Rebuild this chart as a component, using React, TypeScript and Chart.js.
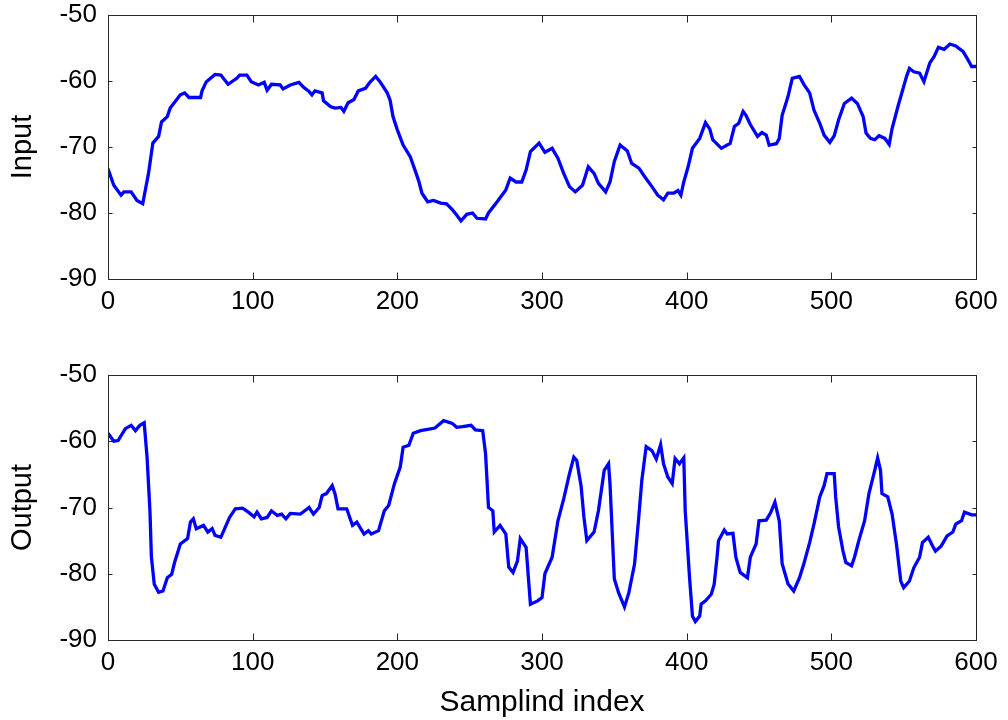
import React, { useEffect, useRef } from "react";
import { Chart, registerables } from "chart.js";

Chart.register(...registerables);

// Input series (sample index, value)
const inputX = [0, 4, 9, 11, 16, 20, 24, 28, 31, 35, 37, 41, 43, 50, 53, 56, 64, 65, 68, 74, 78, 83, 89, 91, 96, 99, 104, 108, 110, 113, 119, 121, 126, 132, 135, 139, 141, 143, 148, 149, 154, 157, 161, 163, 166, 170, 173, 178, 181, 185, 188, 193, 195, 197, 200, 204, 209, 213, 215, 217, 221, 225, 230, 234, 238, 241, 244, 248, 252, 255, 261, 263, 269, 275, 278, 282, 286, 289, 292, 298, 302, 307, 311, 315, 319, 323, 328, 332, 336, 339, 344, 347, 350, 354, 359, 362, 367, 371, 376, 380, 384, 387, 391, 394, 396, 398, 401, 404, 409, 413, 416, 418, 424, 428, 430, 433, 436, 439, 441, 444, 449, 452, 455, 457, 462, 464, 466, 470, 473, 478, 481, 485, 488, 492, 495, 499, 502, 505, 509, 514, 518, 522, 524, 527, 530, 533, 537, 540, 542, 546, 549, 552, 554, 557, 561, 564, 568, 571, 574, 578, 582, 586, 591, 594, 597, 600];
const inputY = [-73.3, -75.8, -77.3, -76.8, -76.8, -78.1, -78.6, -74.0, -69.4, -68.4, -66.2, -65.4, -64.1, -62.1, -61.8, -62.5, -62.5, -61.5, -60.1, -59.0, -59.1, -60.5, -59.6, -59.1, -59.1, -60.1, -60.6, -60.2, -61.4, -60.5, -60.6, -61.2, -60.6, -60.2, -60.9, -61.6, -62.1, -61.5, -61.8, -63.0, -63.9, -64.1, -64.0, -64.6, -63.3, -62.8, -61.5, -61.1, -60.2, -59.3, -60.1, -61.8, -62.9, -65.4, -67.4, -69.7, -71.5, -74.0, -75.3, -77.0, -78.3, -78.1, -78.5, -78.6, -79.5, -80.3, -81.2, -80.2, -80.0, -80.8, -80.9, -80.0, -78.3, -76.5, -74.7, -75.3, -75.3, -73.5, -70.7, -69.4, -70.8, -70.2, -71.7, -74.0, -76.0, -76.8, -75.8, -73.0, -74.0, -75.5, -76.8, -75.3, -72.2, -69.7, -70.6, -72.5, -73.2, -74.5, -76.0, -77.3, -78.0, -77.0, -77.0, -76.6, -77.3, -75.3, -73.0, -70.2, -68.7, -66.3, -67.3, -68.9, -70.2, -69.7, -69.5, -66.9, -66.4, -64.6, -65.2, -66.6, -68.4, -67.8, -68.2, -69.7, -69.5, -68.7, -65.2, -62.4, -59.6, -59.3, -60.5, -61.8, -64.4, -66.4, -68.2, -69.3, -68.3, -65.9, -63.4, -62.6, -63.4, -65.4, -67.9, -68.7, -68.9, -68.3, -68.7, -69.6, -67.2, -63.9, -61.6, -59.3, -58.1, -58.6, -58.8, -60.1, -57.3, -56.3, -54.9, -55.2, -54.4, -54.7, -55.5, -56.6, -57.8, -57.8];

// Output series (sample index, value)
const outputX = [0, 4, 7, 12, 16, 19, 22, 25, 27, 29, 30, 32, 35, 38, 41, 44, 46, 50, 55, 57, 59, 61, 66, 69, 72, 74, 78, 81, 84, 88, 93, 97, 101, 103, 106, 110, 113, 117, 120, 123, 126, 133, 136, 139, 142, 146, 148, 151, 155, 157, 159, 165, 169, 172, 177, 180, 182, 187, 191, 194, 198, 202, 204, 208, 211, 216, 221, 226, 232, 238, 241, 245, 251, 254, 259, 261, 262, 263, 266, 267, 271, 275, 277, 280, 283, 285, 289, 292, 297, 300, 302, 307, 311, 315, 319, 322, 324, 327, 329, 331, 336, 339, 343, 346, 347, 350, 353, 357, 360, 364, 367, 369, 372, 376, 379, 382, 384, 387, 390, 392, 395, 398, 399, 402, 404, 406, 409, 410, 413, 417, 419, 421, 422, 426, 428, 432, 434, 437, 442, 444, 448, 450, 455, 458, 461, 464, 466, 470, 474, 478, 481, 485, 488, 492, 495, 497, 502, 503, 505, 508, 510, 514, 516, 519, 523, 526, 530, 532, 534, 535, 539, 542, 545, 548, 550, 554, 557, 561, 563, 567, 570, 572, 576, 580, 584, 586, 590, 592, 597, 600];
const outputY = [-58.8, -60.0, -59.9, -58.1, -57.6, -58.4, -57.6, -57.2, -62.4, -70.5, -77.5, -81.6, -82.8, -82.6, -80.6, -80.1, -78.3, -75.5, -74.7, -72.2, -71.7, -73.2, -72.7, -73.7, -73.2, -74.2, -74.5, -73.0, -71.5, -70.2, -70.1, -70.7, -71.4, -70.7, -71.7, -71.5, -70.5, -71.2, -71.0, -71.7, -70.9, -71.0, -70.5, -70.0, -71.0, -70.0, -68.2, -67.9, -66.7, -68.0, -70.2, -70.2, -72.7, -72.2, -74.0, -73.5, -74.0, -73.5, -70.5, -69.7, -66.4, -63.9, -60.9, -60.6, -58.8, -58.4, -58.2, -58.0, -56.9, -57.3, -57.9, -57.8, -57.6, -58.3, -58.4, -61.9, -65.9, -70.0, -70.5, -73.7, -72.7, -74.0, -79.0, -79.8, -78.1, -74.7, -76.0, -84.6, -84.1, -83.6, -80.0, -77.5, -72.0, -68.7, -64.9, -62.4, -62.9, -66.7, -71.5, -75.0, -73.7, -70.5, -64.4, -63.4, -66.4, -80.8, -82.9, -85.0, -82.9, -78.5, -71.2, -65.9, -60.8, -61.4, -62.7, -60.5, -63.4, -65.4, -66.4, -62.6, -63.4, -62.5, -70.5, -80.6, -86.4, -87.2, -86.4, -84.6, -84.1, -83.1, -81.6, -77.5, -75.0, -73.4, -74.0, -73.9, -77.5, -79.8, -80.6, -77.5, -75.5, -72.0, -71.9, -70.8, -69.2, -72.0, -78.5, -81.5, -82.6, -80.6, -78.5, -75.3, -72.5, -68.4, -66.7, -64.9, -64.9, -68.4, -72.9, -76.5, -78.3, -78.8, -77.5, -75.0, -72.0, -67.9, -64.4, -62.5, -64.4, -67.9, -68.4, -71.0, -75.5, -81.1, -82.1, -81.1, -79.1, -77.5, -75.3, -74.5, -75.8, -76.6, -75.8, -74.3, -73.7, -72.5, -72.0, -70.7, -71.1, -71.1];

const xTicks = [0, 100, 200, 300, 400, 500, 600];
const yTicks = [-90, -80, -70, -60, -50];

const FONT = '"Liberation Sans", Arial, sans-serif';
const BOX = "#262626";

const boxPlugin = {
  id: "matlabBox",
  afterDraw(chart: any) {
    const { ctx, chartArea: a, scales } = chart;
    ctx.save();
    ctx.strokeStyle = BOX;
    ctx.lineWidth = 1;
    const l = Math.round(a.left) + 0.5;
    const r = Math.round(a.right) + 0.5;
    const t = Math.round(a.top) + 0.5;
    const b = Math.round(a.bottom) + 0.5;
    ctx.strokeRect(l, t, r - l, b - t);
    ctx.beginPath();
    scales.x.ticks.forEach((tk: any) => {
      const px = Math.round(scales.x.getPixelForValue(tk.value)) + 0.5;
      ctx.moveTo(px, b);
      ctx.lineTo(px, b - 7);
      ctx.moveTo(px, t);
      ctx.lineTo(px, t + 7);
    });
    scales.y.ticks.forEach((tk: any) => {
      const py = Math.round(scales.y.getPixelForValue(tk.value)) + 0.5;
      ctx.moveTo(l, py);
      ctx.lineTo(l + 4, py);
      ctx.moveTo(r, py);
      ctx.lineTo(r - 4, py);
    });
    ctx.stroke();
    ctx.restore();
  },
};

function makeConfig(xs: number[], ys: number[], yLabel: string, xLabel: string | null, padTop: number, xHeight: number) {
  const data = xs.map((x, i) => ({ x, y: ys[i] }));
  return {
    type: "line" as const,
    data: {
      datasets: [
        {
          data,
          borderColor: "#0000FF",
          borderWidth: 3.3,
          pointRadius: 0,
          tension: 0,
          fill: false,
        },
      ],
    },
    options: {
      animation: false as const,
      responsive: false,
      events: [],
      layout: { padding: { top: padTop, right: 32, left: 0, bottom: 0 } },
      plugins: { legend: { display: false }, tooltip: { enabled: false } },
      scales: {
        x: {
          type: "linear" as const,
          min: 0,
          max: 600,
          afterBuildTicks: (s: any) => {
            s.ticks = xTicks.map((v) => ({ value: v }));
          },
          afterFit: (s: any) => {
            s.height = xHeight;
            s.paddingLeft = 0;
            s.paddingRight = 0;
          },
          grid: { display: false, drawTicks: false },
          border: { display: false },
          ticks: {
            color: "#000",
            padding: 10,
            maxRotation: 0,
            autoSkip: false,
            font: { family: FONT, size: 26, lineHeight: 1 },
          },
          title: {
            display: !!xLabel,
            text: xLabel || "",
            color: "#000",
            font: { family: FONT, size: 30, lineHeight: 1 },
            padding: { top: 0, bottom: 2 },
          },
        },
        y: {
          type: "linear" as const,
          min: -90,
          max: -50,
          afterBuildTicks: (s: any) => {
            s.ticks = yTicks.map((v) => ({ value: v }));
          },
          afterFit: (s: any) => {
            s.width = 108;
            s.paddingTop = 0;
            s.paddingBottom = 0;
          },
          grid: { display: false, drawTicks: false },
          border: { display: false },
          ticks: {
            color: "#000",
            padding: 11,
            autoSkip: false,
            font: { family: FONT, size: 26, lineHeight: 1 },
          },
          title: {
            display: true,
            text: yLabel,
            color: "#000",
            font: { family: FONT, size: 29, lineHeight: 1 },
            padding: { top: 8, bottom: 0 },
          },
        },
      },
    },
    plugins: [boxPlugin],
  };
}

function Panel(props: { top: number; height: number; xs: number[]; ys: number[]; yLabel: string; xLabel: string | null; padTop: number; xHeight: number }) {
  const ref = useRef<HTMLCanvasElement | null>(null);
  useEffect(() => {
    if (!ref.current) return;
    const chart = new Chart(ref.current, makeConfig(props.xs, props.ys, props.yLabel, props.xLabel, props.padTop, props.xHeight) as any);
    return () => chart.destroy();
  }, []);
  return (
    <canvas
      ref={ref}
      width={1008}
      height={props.height}
      style={{ position: "absolute", left: 0, top: props.top, width: 1008, height: props.height, display: "block" }}
    />
  );
}

export default function App() {
  return (
    <div style={{ position: "absolute", left: 0, top: 0, width: 1008, height: 720, background: "#fff", overflow: "hidden" }}>
      <Panel top={0} height={345} xs={inputX} ys={inputY} yLabel="Input" xLabel={null} padTop={15} xHeight={66} />
      <Panel top={345} height={375} xs={outputX} ys={outputY} yLabel="Output" xLabel="Samplind index" padTop={30} xHeight={80} />
    </div>
  );
}
